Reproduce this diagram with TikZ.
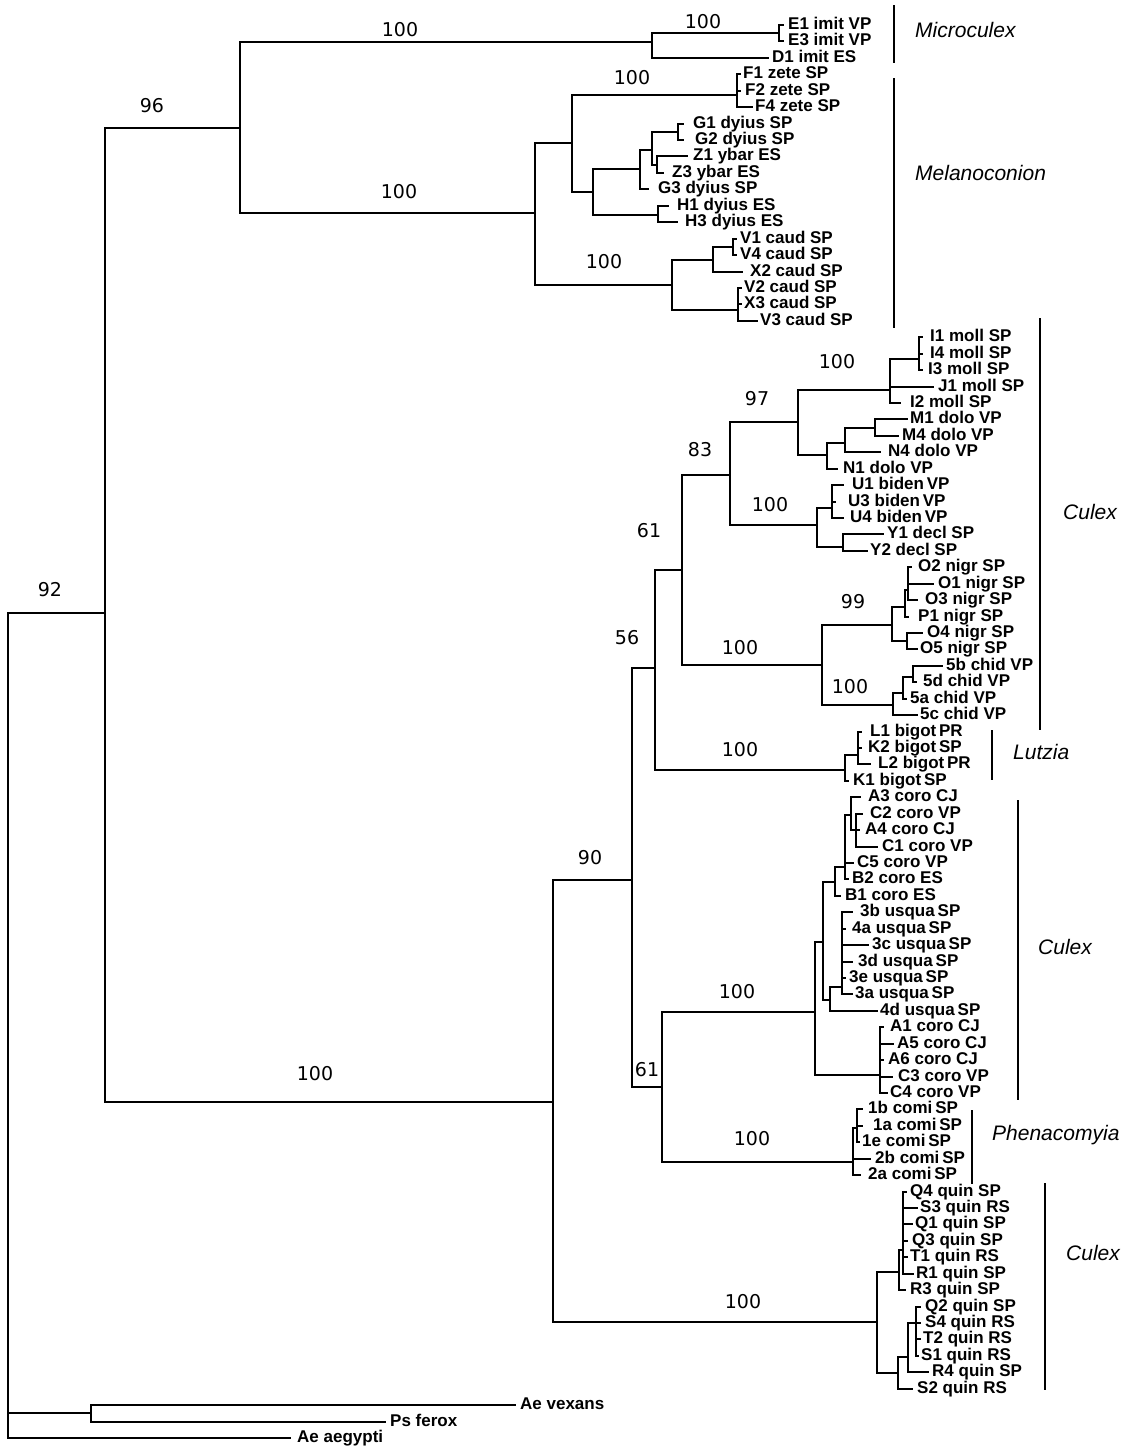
\documentclass[tikz,border=0pt]{standalone}
\usepackage{fontspec}
\setmainfont{Liberation Sans}
\newfontfamily\numfont{DejaVu Sans}
\newcommand\leaffont{\bfseries\fontsize{17}{17}\selectfont}
\newcommand\suppfont{\numfont\fontsize{19}{19}\selectfont}
\newcommand\cladefont{\itshape\fontsize{21}{21}\selectfont}
\newcommand\mkleaf[6]{%
  \coordinate (t#1) at (#2,#4);
  \node[leaf] (l#1) at (#3,#4+4.5) {#5};
  \draw[br] (#6) |- (t#1);}
\newcommand\mkin[4]{%
  \coordinate (#1) at (#2,#3);
  \draw[br] (#4) |- (#1);}
\begin{document}
\begin{tikzpicture}[x=1pt,y=-1pt,
  br/.style={line width=2pt,line cap=rect},
  bar/.style={line width=2.4pt},
  leaf/.style={anchor=base west,inner sep=0pt,font=\leaffont},
  supp/.style={inner sep=0pt,font=\suppfont},
  clade/.style={anchor=west,inner sep=0pt,font=\cladefont}]
\useasboundingbox[fill=white] (0,0) rectangle (1127,1448);
% root and ingroup
\coordinate (r) at (8,613);
\mkin{n92}{105}{613}{r}
\mkin{n96}{240}{128}{n92}
% Microculex
\mkin{nMic}{652}{42}{n96}
\mkin{nE}{779}{33}{nMic}
\mkleaf{E1}{783}{788}{25.0}{E1 imit VP}{nE}
\mkleaf{E3}{783}{788}{41.4}{E3 imit VP}{nE}
\mkleaf{D1}{768}{772}{57.9}{D1 imit ES}{nMic}
% Melanoconion
\mkin{nMel}{535}{213}{n96}
\mkin{nZG}{572}{143}{nMel}
\mkin{nF}{737}{95}{nZG}
\mkleaf{F1}{740}{743}{74.3}{F1 zete SP}{nF}
\mkleaf{F2}{740}{745}{90.7}{F2 zete SP}{nF}
\mkleaf{F4}{752}{755}{107.2}{F4 zete SP}{nF}
\mkin{nDy}{593}{192}{nZG}
\mkin{nG}{640}{169}{nDy}
\mkin{nGZ}{652}{150}{nG}
\mkin{nG12}{678}{132}{nGZ}
\mkleaf{G1}{683}{693}{123.6}{G1 dyius SP}{nG12}
\mkleaf{G2}{683}{695}{140.0}{G2 dyius SP}{nG12}
\mkin{nZ}{657}{165}{nGZ}
\mkleaf{Z1}{687}{693}{156.4}{Z1 ybar ES}{nZ}
\mkleaf{Z3}{663}{672}{172.9}{Z3 ybar ES}{nZ}
\mkleaf{G3}{648}{658}{189.3}{G3 dyius SP}{nG}
\mkin{nH}{658}{215}{nDy}
\mkleaf{H1}{668}{677}{205.7}{H1 dyius ES}{nH}
\mkleaf{H3}{677}{685}{222.2}{H3 dyius ES}{nH}
\mkin{nCaud}{672}{285}{nMel}
\mkin{nVX}{713}{260}{nCaud}
\mkin{nV14}{733}{247}{nVX}
\mkleaf{V1}{736}{740}{238.6}{V1 caud SP}{nV14}
\mkleaf{V4}{736}{740}{255.0}{V4 caud SP}{nV14}
\mkleaf{X2}{742}{750}{271.5}{X2 caud SP}{nVX}
\mkin{nV23}{738}{310}{nCaud}
\mkleaf{V2}{741}{744}{287.9}{V2 caud SP}{nV23}
\mkleaf{X3}{741}{744}{304.3}{X3 caud SP}{nV23}
\mkleaf{V3}{757}{760}{320.7}{V3 caud SP}{nV23}
% Culex s.l.
\mkin{nC}{553}{1102}{n92}
\mkin{n90}{632}{880}{nC}
\mkin{n56}{655}{668}{n90}
\mkin{n61a}{682}{570}{n56}
\mkin{n83}{730}{475}{n61a}
\mkin{n97}{798}{422}{n83}
\mkin{nMo}{890}{390}{n97}
\mkin{nI}{919}{359}{nMo}
\mkleaf{I1}{922}{930}{337.2}{I1 moll SP}{nI}
\mkleaf{I4}{922}{930}{353.6}{I4 moll SP}{nI}
\mkleaf{I3}{922}{928}{370.0}{I3 moll SP}{nI}
\mkleaf{J1}{933}{938}{386.5}{J1 moll SP}{nMo}
\mkleaf{I2}{900}{910}{402.9}{I2 moll SP}{nMo}
\mkin{nDo}{827}{455}{n97}
\mkin{nMN}{845}{443}{nDo}
\mkin{nM}{875}{428}{nMN}
\mkleaf{M1}{907}{910}{419.3}{M1 dolo VP}{nM}
\mkleaf{M4}{898}{902}{435.8}{M4 dolo VP}{nM}
\mkleaf{N4}{880}{888}{452.2}{N4 dolo VP}{nMN}
\mkleaf{N1}{837}{843}{468.6}{N1 dolo VP}{nDo}
\mkin{nUY}{817}{525}{n83}
\mkin{nU}{832}{508}{nUY}
\mkleaf{U1}{843}{852}{485.0}{U1 biden\,VP}{nU}
\mkleaf{U3}{835}{848}{501.5}{U3 biden\,VP}{nU}
\mkleaf{U4}{843}{850}{517.9}{U4 biden\,VP}{nU}
\mkin{nY}{843}{547}{nUY}
\mkleaf{Y1}{883}{887}{534.3}{Y1 decl SP}{nY}
\mkleaf{Y2}{867}{870}{550.8}{Y2 decl SP}{nY}
\mkin{nNC}{822}{665}{n61a}
\mkin{nNi}{892}{625}{nNC}
\mkin{nOa}{905}{607}{nNi}
\mkin{nO}{908}{590}{nOa}
\mkleaf{O2}{911}{918}{567.2}{O2 nigr SP}{nO}
\mkleaf{O1}{933}{938}{583.6}{O1 nigr SP}{nO}
\mkleaf{O3}{917}{925}{600.1}{O3 nigr SP}{nO}
\mkleaf{P1}{908}{918}{616.5}{P1 nigr SP}{nOa}
\mkin{nOb}{907}{641}{nNi}
\mkleaf{O4}{922}{927}{632.9}{O4 nigr SP}{nOb}
\mkleaf{O5}{917}{920}{649.3}{O5 nigr SP}{nOb}
\mkin{nCh}{893}{705}{nNC}
\mkin{nChb}{903}{693}{nCh}
\mkin{nChc}{913}{677}{nChb}
\mkleaf{5b}{942}{946}{665.8}{5b chid VP}{nChc}
\mkleaf{5d}{916}{923}{682.2}{5d chid VP}{nChc}
\mkleaf{5a}{906}{910}{698.6}{5a chid VP}{nChb}
\mkleaf{5c}{917}{920}{715.1}{5c chid VP}{nCh}
\mkin{nLut}{845}{770}{n56}
\mkin{nL}{858}{755}{nLut}
\mkleaf{L1}{861}{870}{731.5}{L1 bigot\,PR}{nL}
\mkleaf{K2}{861}{868}{747.9}{K2 bigot\,SP}{nL}
\mkleaf{L2}{870}{878}{764.4}{L2 bigot\,PR}{nL}
\mkleaf{K1}{848}{853}{780.8}{K1 bigot\,SP}{nLut}
\mkin{n61b}{662}{1087}{n90}
\mkin{nCoro}{815}{1012}{n61b}
\mkin{nCU}{823}{942}{nCoro}
\mkin{nCB}{835}{882}{nCU}
\mkin{nCf}{845}{867}{nCB}
\mkin{nAt}{851}{815}{nCf}
\mkleaf{A3}{860}{868}{797.2}{A3 coro CJ}{nAt}
\mkin{nCt}{856}{830}{nAt}
\mkleaf{C2}{862}{870}{813.7}{C2 coro VP}{nCt}
\mkleaf{A4}{859}{865}{830.1}{A4 coro CJ}{nCt}
\mkleaf{C1}{877}{882}{846.5}{C1 coro VP}{nCt}
\mkleaf{C5}{853}{857}{863.0}{C5 coro VP}{nCf}
\mkleaf{B2}{848}{852}{879.4}{B2 coro ES}{nCf}
\mkleaf{B1}{840}{845}{895.8}{B1 coro ES}{nCB}
\mkin{nUs}{830}{1000}{nCU}
\mkin{nUq}{842}{987}{nUs}
\mkleaf{3b}{852}{860}{912.2}{3b usqua\,SP}{nUq}
\mkleaf{4a}{845}{852}{928.7}{4a usqua\,SP}{nUq}
\mkleaf{3c}{868}{872}{945.1}{3c usqua\,SP}{nUq}
\mkleaf{3d}{852}{858}{961.5}{3d usqua\,SP}{nUq}
\mkleaf{3e}{845}{849}{978.0}{3e usqua\,SP}{nUq}
\mkleaf{3a}{852}{855}{994.4}{3a usqua\,SP}{nUq}
\mkleaf{4d}{877}{880}{1010.8}{4d usqua\,SP}{nUs}
\mkin{nA}{880}{1075}{nCoro}
\mkleaf{A1}{883}{890}{1027.3}{A1 coro CJ}{nA}
\mkleaf{A5}{893}{897}{1043.7}{A5 coro CJ}{nA}
\mkleaf{A6}{883}{888}{1060.1}{A6 coro CJ}{nA}
\mkleaf{C3}{892}{898}{1076.6}{C3 coro VP}{nA}
\mkleaf{C4}{887}{890}{1093.0}{C4 coro VP}{nA}
\mkin{nComi}{853}{1162}{n61b}
\mkin{nCm}{857}{1128}{nComi}
\mkleaf{1b}{862}{868}{1109.4}{1b comi\,SP}{nCm}
\mkleaf{1a}{862}{873}{1125.8}{1a comi\,SP}{nCm}
\mkleaf{1e}{859}{862}{1142.3}{1e comi\,SP}{nCm}
\mkleaf{2b}{870}{875}{1158.7}{2b comi\,SP}{nComi}
\mkleaf{2a}{860}{868}{1175.1}{2a comi\,SP}{nComi}
\mkin{nQ}{877}{1322}{nC}
\mkin{nQu}{899}{1272}{nQ}
\mkin{nQa}{903}{1250}{nQu}
\mkleaf{Q4}{906}{910}{1191.6}{Q4 quin SP}{nQa}
\mkleaf{S3}{917}{920}{1208.0}{S3 quin RS}{nQa}
\mkleaf{Q1}{912}{915}{1224.4}{Q1 quin SP}{nQa}
\mkleaf{Q3}{907}{912}{1240.9}{Q3 quin SP}{nQa}
\mkleaf{T1}{907}{910}{1257.3}{T1 quin RS}{nQa}
\mkleaf{R1}{913}{916}{1273.7}{R1 quin SP}{nQa}
\mkleaf{R3}{905}{910}{1290.2}{R3 quin SP}{nQu}
\mkin{nQl}{898}{1373}{nQ}
\mkin{nQb}{908}{1357}{nQl}
\mkin{nQc}{916}{1323}{nQb}
\mkleaf{Q2}{920}{925}{1306.6}{Q2 quin SP}{nQc}
\mkleaf{S4}{920}{925}{1323.0}{S4 quin RS}{nQc}
\mkleaf{T2}{920}{923}{1339.4}{T2 quin RS}{nQc}
\mkleaf{S1}{918}{921}{1355.9}{S1 quin RS}{nQc}
\mkleaf{R4}{928}{932}{1372.3}{R4 quin SP}{nQb}
\mkleaf{S2}{912}{917}{1388.7}{S2 quin RS}{nQl}
% outgroups
\mkin{nOut}{91}{1413}{r}
\mkleaf{Aev}{515}{520}{1405.1}{Ae vexans}{nOut}
\mkleaf{Psf}{385}{390}{1421.6}{Ps ferox}{nOut}
\mkleaf{Aea}{290}{297}{1438.0}{Ae aegypti}{r}
% support values
\node[supp] (s92) at (50,590) {92};
\node[supp] (s96) at (152,106) {96};
\node[supp] (sMic) at (400,30) {100};
\node[supp] (sE) at (703,22) {100};
\node[supp] (sF) at (632,78) {100};
\node[supp] (sMel) at (399,192) {100};
\node[supp] (sCaud) at (604,262) {100};
\node[supp] (sMoll) at (837,362) {100};
\node[supp] (s97) at (757,399) {97};
\node[supp] (s83) at (700,450) {83};
\node[supp] (sBid) at (770,505) {100};
\node[supp] (s61a) at (649,531) {61};
\node[supp] (s99) at (853,602) {99};
\node[supp] (s56) at (627,638) {56};
\node[supp] (sNC) at (740,648) {100};
\node[supp] (sChid) at (850,687) {100};
\node[supp] (sLut) at (740,750) {100};
\node[supp] (s90) at (590,858) {90};
\node[supp] (sCoro) at (737,992) {100};
\node[supp] (s61b) at (647,1070) {61};
\node[supp] (sCul) at (315,1074) {100};
\node[supp] (sComi) at (752,1139) {100};
\node[supp] (sQuin) at (743,1302) {100};
% clade bars and names
\draw[bar] (894,5) -- (894,63);
\node[clade] (cMic) at (915,30) {Microculex};
\draw[bar] (894,78) -- (894,328);
\node[clade] (cMel) at (915,173) {Melanoconion};
\draw[bar] (1040,318) -- (1040,730);
\node[clade] (cCul1) at (1063,512) {Culex};
\draw[bar] (992,730) -- (992,780);
\node[clade] (cLut) at (1013,752) {Lutzia};
\draw[bar] (1018,800) -- (1018,1100);
\node[clade] (cCul2) at (1038,947) {Culex};
\draw[bar] (972,1110) -- (972,1184);
\node[clade] (cPhe) at (992,1135) {Phenacomyia};
\draw[bar] (1045,1183) -- (1045,1390);
\node[clade] (cCul3) at (1066,1253) {Culex};
\end{tikzpicture}
\end{document}
